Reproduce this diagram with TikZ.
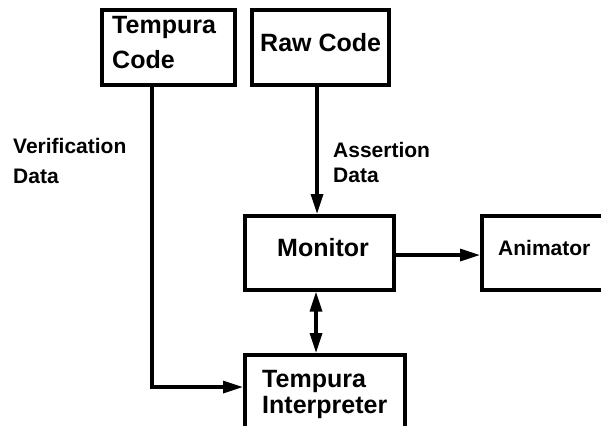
\documentclass[tikz,border=0pt]{standalone}
\usepackage{fontspec}
\setmainfont{Liberation Sans}
\usetikzlibrary{arrows.meta}
\begin{document}
\begin{tikzpicture}[x=1pt,y=-1pt,
  blk/.style={draw, line width=3.6pt, inner sep=0pt, anchor=north west},
  big/.style={font=\bfseries\fontsize{25}{35}\selectfont, inner sep=0pt, anchor=base west, align=left},
  small/.style={font=\bfseries\fontsize{21}{30}\selectfont, inner sep=0pt, anchor=base west, align=left},
  tip/.tip={Triangle[length=20pt,width=12pt]},
  link/.style={line width=3.2pt, -tip},
  both/.style={line width=3.2pt, tip-tip}]
\useasboundingbox (0,0) rectangle (601,425);
\fill[white] (0,0) rectangle (601,425);
\clip (0,0) rectangle (601,425);

% boxes
\node[blk, minimum width=133pt, minimum height=75pt] (tcode) at (100,8) {};
\node[blk, minimum width=137pt, minimum height=75pt] (raw) at (250,8) {};
\node[blk, minimum width=149pt, minimum height=74pt] (mon) at (243,214) {};
\node[blk, minimum width=140pt, minimum height=74pt] (anim) at (480,214) {};
\node[blk, minimum width=160pt, minimum height=90pt] (interp) at (243,353) {};

% box labels (anchored on the baseline of the last line)
\node[big] (tcodetxt) at (112,69) {Tempura\\Code};
\node[big] (rawtxt) at (260,52) {Raw Code};
\node[big] (montxt) at (277,256) {Monitor};
\node[small] (animtxt) at (498,255) {Animator};
\node[big, font=\bfseries\fontsize{25}{26}\selectfont] (interptxt) at (262,413) {Tempura\\Interpreter};

% flow labels
\node[small] (vdata) at (13,183) {Verification\\Data};
\node[small, font=\bfseries\fontsize{21}{25}\selectfont] (adata) at (333,182) {Assertion\\Data};

% connectors
\coordinate (bend) at (152,387);
\draw[link] (tcode.south -| bend) -- (bend) -- (interp.west |- bend);
\draw[link] (raw.south -| 317,0) -- (mon.north -| 317,0);
\draw[link] (mon.east |- 0,255) -- (anim.west |- 0,255);
\draw[both] (mon.south -| 316,0) -- (interp.north -| 316,0);
\end{tikzpicture}
\end{document}
